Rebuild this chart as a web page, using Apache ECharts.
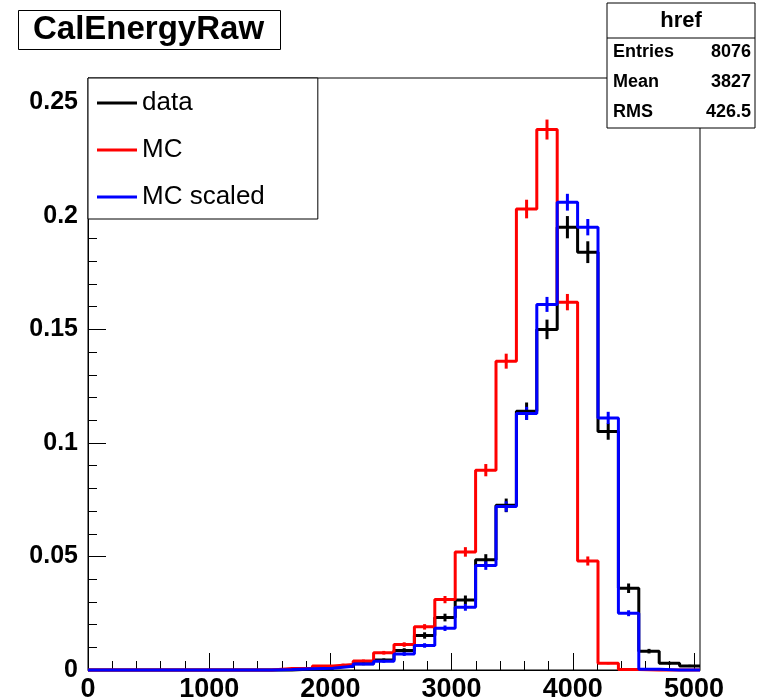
<!DOCTYPE html>
<html>
<head>
<meta charset="utf-8">
<script src="https://cdn.jsdelivr.net/npm/echarts@6/dist/echarts.min.js"></script>
<style>
html,body{margin:0;padding:0;background:#fff;}
#chart{width:759px;height:700px;}
</style>
</head>
<body>
<div id="chart"></div>
<script>
// ---- histogram definition ----
const xMin = 0;
const xMax = 5050;
const nBins = 30;
const yMax = 0.2607;

const seriesNames = ['data', 'MC', 'MC scaled'];

// bin contents (normalised), 30 bins
const dataValues = [0, 0, 0, 0, 0, 0, 0, 0, 0, 0,
  0.0004, 0.0006, 0.0015, 0.0028, 0.0044, 0.0086, 0.0152, 0.0231, 0.0308, 0.0485,
  0.0725, 0.114, 0.150, 0.195, 0.184, 0.105, 0.036, 0.0083, 0.003, 0.0018];
const dataErrors = [0, 0, 0, 0, 0, 0, 0, 0, 0, 0,
  0.0002, 0.0003, 0.0004, 0.0006, 0.0007, 0.001, 0.0014, 0.0017, 0.002, 0.0025,
  0.003, 0.0038, 0.0043, 0.0049, 0.0048, 0.0036, 0.0021, 0.001, 0.0006, 0.0005];

const mcValues = [0, 0, 0, 0, 0, 0, 0, 0, 0, 0.0007,
  0.0008, 0.0018, 0.0024, 0.004, 0.0076, 0.0112, 0.019, 0.031, 0.052, 0.088,
  0.136, 0.203, 0.238, 0.162, 0.048, 0.003, 0.0002, 0, 0, 0];
const mcErrors = [0, 0, 0, 0, 0, 0, 0, 0, 0, 0.0002,
  0.0003, 0.0004, 0.0004, 0.0006, 0.0008, 0.001, 0.0012, 0.0016, 0.0021, 0.0027,
  0.0033, 0.0041, 0.0044, 0.0036, 0.002, 0.0005, 0.0001, 0, 0, 0];

const mcScaledValues = [0, 0, 0, 0, 0, 0, 0, 0, 0, 0.0002,
  0.0006, 0.0008, 0.0016, 0.0026, 0.0038, 0.007, 0.0108, 0.0184, 0.0276, 0.046,
  0.072, 0.113, 0.161, 0.206, 0.195, 0.111, 0.025, 0.0003, 0, 0];
const mcScaledErrors = [0, 0, 0, 0, 0, 0, 0, 0, 0, 0.0001,
  0.0002, 0.0003, 0.0004, 0.0005, 0.0006, 0.0008, 0.001, 0.0012, 0.0015, 0.0019,
  0.0023, 0.0029, 0.0033, 0.0037, 0.0036, 0.0027, 0.0013, 0.0002, 0, 0];

// axis tick labels
const xTickLabels = ['0', '1000', '2000', '3000', '4000', '5000'];
const yTickLabels = ['0', '0.05', '0.1', '0.15', '0.2', '0.25'];
const xMinorStep = 200;
const yMinorStep = 0.01;

// title and statistics box text
const titleText = 'CalEnergyRaw';
const statsTitle = 'href';
const statsLabels = ['Entries', 'Mean', 'RMS'];
const statsValues = ['8076', '3827', '426.5'];

// ---- build ----
const binWidth = (xMax - xMin) / nBins;
function stepData(vals) {
  const out = [];
  for (let k = 0; k < vals.length; k++) out.push([xMin + k * binWidth, vals[k]]);
  out.push([xMin + vals.length * binWidth, vals[vals.length - 1]]);
  return out;
}
function errData(vals, errs) {
  const out = [];
  for (let k = 0; k < vals.length; k++) {
    if (errs[k] > 0) out.push([xMin + (k + 0.5) * binWidth, vals[k], errs[k]]);
  }
  return out;
}
const xMajor = xTickLabels.map(Number);
const yMajor = yTickLabels.map(Number);
const xMinor = [];
for (let v = xMin; v <= xMajor[xMajor.length - 1] + 1e-9; v += xMinorStep) xMinor.push(Math.round(v));
const yMinor = [];
for (let i = 0; Math.round(i) * yMinorStep <= yMax; i++) yMinor.push(+(i * yMinorStep).toFixed(4));

const colors = ['#000000', '#ff0000', '#0000ff'];
const FONT = 'Liberation Sans, Arial, Helvetica, sans-serif';

function lineSeries(name, vals, color) {
  return {
    name: name, type: 'line', step: 'end', data: stepData(vals),
    showSymbol: false, symbol: 'none', clip: false,
    color: color,
    lineStyle: { color: color, width: 3 },
    itemStyle: { color: color },
    emphasis: { disabled: true },
    animation: false, z: 3
  };
}
function errSeries(name, vals, errs, color) {
  return {
    name: name + ' err', type: 'custom', data: errData(vals, errs),
    clip: false, animation: false, z: 3,
    encode: { x: 0, y: 1 },
    renderItem: function (params, api) {
      const x = api.value(0), v = api.value(1), e = api.value(2);
      const p1 = api.coord([x, v - e]);
      const p2 = api.coord([x, v + e]);
      return {
        type: 'line',
        shape: { x1: p1[0], y1: p1[1], x2: p2[0], y2: p2[1] },
        style: { stroke: color, lineWidth: 3 }
      };
    }
  };
}

const chart = echarts.init(document.getElementById('chart'), null, { renderer: 'canvas' });

const statsGraphics = [
  { type: 'rect', shape: { x: 607, y: 3, width: 148, height: 125 },
    style: { fill: '#fff', stroke: '#000', lineWidth: 1 }, z: 10 },
  { type: 'line', shape: { x1: 607, y1: 38, x2: 755, y2: 38 },
    style: { stroke: '#000', lineWidth: 1 }, z: 11 },
  { type: 'text', x: 681, y: 21, z: 11,
    style: { text: statsTitle, fill: '#000', font: 'bold 22px ' + FONT,
      textAlign: 'center', textVerticalAlign: 'middle' } }
];
statsLabels.forEach(function (lab, i) {
  statsGraphics.push({ type: 'text', x: 613, y: 52 + i * 30, z: 11,
    style: { text: lab, fill: '#000', font: 'bold 18px ' + FONT,
      textAlign: 'left', textVerticalAlign: 'middle' } });
  statsGraphics.push({ type: 'text', x: 751, y: 52 + i * 30, z: 11,
    style: { text: statsValues[i], fill: '#000', font: 'bold 18px ' + FONT,
      textAlign: 'right', textVerticalAlign: 'middle' } });
});

const option = {
  animation: false,
  backgroundColor: '#ffffff',
  title: {
    text: titleText, left: 18, top: 10,
    borderColor: '#000', borderWidth: 1, padding: [2, 17, 2, 15],
    backgroundColor: '#fff',
    textStyle: { fontSize: 33, fontWeight: 'bold', fontFamily: FONT, color: '#000', lineHeight: 36 }
  },
  legend: {
    show: true, orient: 'vertical', left: 88, top: 78,
    padding: [10, 53, 7, 9], itemGap: 17, itemWidth: 40, itemHeight: 3,
    icon: 'rect', selectedMode: false,
    backgroundColor: '#fff', borderColor: '#000', borderWidth: 1, borderRadius: 0,
    textStyle: { fontSize: 26, fontFamily: FONT, color: '#000', lineHeight: 30 },
    data: seriesNames
  },
  grid: {
    left: 88, top: 78, width: 612, height: 592,
    show: true, borderColor: '#000', borderWidth: 1, backgroundColor: 'transparent',
    containLabel: false, outerBoundsMode: 'none'
  },
  xAxis: [
    { type: 'value', min: xMin, max: xMax, interval: 1000, position: 'bottom',
      axisLine: { show: true, onZero: false, lineStyle: { color: '#000', width: 1 } },
      axisTick: { show: true, inside: true, length: 17, customValues: xMajor,
        lineStyle: { color: '#000', width: 1 } },
      minorTick: { show: false },
      axisLabel: { show: true, customValues: xMajor, margin: 6,
        fontSize: 27, fontWeight: 'bold', fontFamily: FONT, color: '#000',
        formatter: function (v) { const i = xMajor.indexOf(v); return i >= 0 ? xTickLabels[i] : ''; } },
      splitLine: { show: false } },
    { type: 'value', min: xMin, max: xMax, interval: 1000, position: 'bottom', gridIndex: 0,
      axisLine: { show: false, onZero: false },
      axisTick: { show: true, inside: true, length: 9, customValues: xMinor,
        lineStyle: { color: '#000', width: 1 } },
      axisLabel: { show: false }, splitLine: { show: false } }
  ],
  yAxis: [
    { type: 'value', min: 0, max: yMax, interval: 0.05, position: 'left',
      axisLine: { show: true, onZero: false, lineStyle: { color: '#000', width: 1 } },
      axisTick: { show: true, inside: true, length: 18, customValues: yMajor,
        lineStyle: { color: '#000', width: 1 } },
      minorTick: { show: false },
      axisLabel: { show: true, customValues: yMajor, margin: 10,
        fontSize: 25, fontWeight: 'bold', fontFamily: FONT, color: '#000',
        formatter: function (v) {
          for (let i = 0; i < yMajor.length; i++) if (Math.abs(yMajor[i] - v) < 1e-9) return yTickLabels[i];
          return '';
        } },
      splitLine: { show: false } },
    { type: 'value', min: 0, max: yMax, interval: 0.05, position: 'left', gridIndex: 0,
      axisLine: { show: false, onZero: false },
      axisTick: { show: true, inside: true, length: 9, customValues: yMinor,
        lineStyle: { color: '#000', width: 1 } },
      axisLabel: { show: false }, splitLine: { show: false } }
  ],
  series: [
    lineSeries(seriesNames[0], dataValues, colors[0]),
    errSeries(seriesNames[0], dataValues, dataErrors, colors[0]),
    lineSeries(seriesNames[1], mcValues, colors[1]),
    errSeries(seriesNames[1], mcValues, mcErrors, colors[1]),
    lineSeries(seriesNames[2], mcScaledValues, colors[2]),
    errSeries(seriesNames[2], mcScaledValues, mcScaledErrors, colors[2])
  ],
  graphic: statsGraphics
};
chart.setOption(option);
</script>
</body>
</html>
